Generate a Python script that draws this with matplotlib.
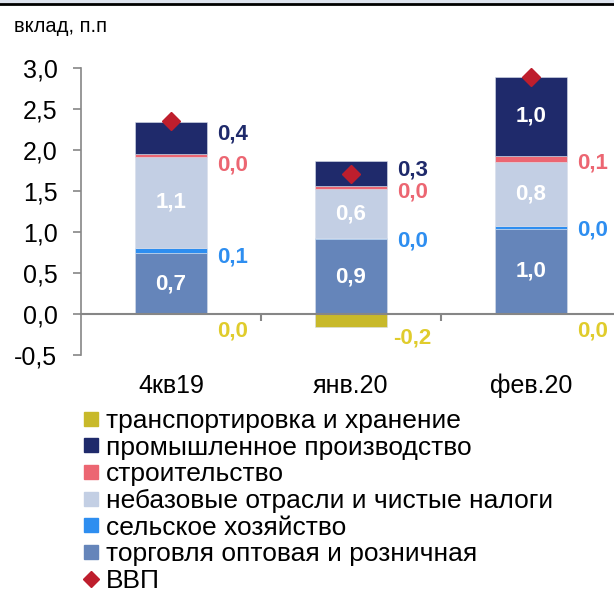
import matplotlib
matplotlib.use("Agg")
import matplotlib.pyplot as plt
from matplotlib.lines import Line2D
from matplotlib.patches import Rectangle

plt.rcParams["font.family"] = ["Liberation Sans", "DejaVu Sans"]

categories = ["4кв19", "янв.20", "фев.20"]

# positive stack, bottom to top
trade = [0.74, 0.91, 1.04]
agri = [0.07, 0.02, 0.03]
nonbase = [1.10, 0.59, 0.78]
constr = [0.04, 0.04, 0.075]
industry = [0.39, 0.30, 0.97]
# negative
transport = [0.0, -0.16, 0.0]
gdp = [2.35, 1.71, 2.89]

names = ["торговля оптовая и розничная", "сельское хозяйство",
         "небазовые отрасли и чистые налоги", "строительство",
         "промышленное производство"]
colors = ["#6585BA", "#2E8EF0", "#C3CFE4", "#EC6672", "#1F2A6B"]
label_colors = ["white", "#2E8EF0", "white", "#EC6672", "#1F2A6B"]
transport_name = "транспортировка и хранение"
transport_color = "#C8B92A"
transport_label_color = "#E0CC2C"
gdp_color = "#BE1E2D"

# vertical nudges (points, positive = down) for outside labels, per series and bar
nudges = {1: [5, 2, 2], 3: [7, 3, 3], 4: [-3, -3, 0]}

fig = plt.figure(figsize=(6.14, 5.89), dpi=100)
ax = fig.add_axes([81 / 614, 234 / 589, 540 / 614, 287 / 589])

x = list(range(len(categories)))
w = 0.4
bottom = [0.0] * 3
series = [trade, agri, nonbase, constr, industry]
for k, vals in enumerate(series):
    ax.bar(x, vals, w, bottom=bottom, color=colors[k], edgecolor="#D8DEEA",
           linewidth=0.4, zorder=2)
    for i, v in enumerate(vals):
        mid = bottom[i] + v / 2
        txt = f"{v:.1f}".replace(".", ",")
        if v >= 0.5:
            ax.text(i, mid, txt, ha="center", va="center", color="white",
                    fontsize=16, fontweight="bold", zorder=4)
        else:
            ax.annotate(txt, (i + w / 2 + 0.14, mid), xytext=(0, -nudges[k][i]),
                        textcoords="offset points", ha="center", va="center",
                        color=label_colors[k], fontsize=16, fontweight="bold")
        bottom[i] += v

ax.bar(x, transport, w, color=transport_color, edgecolor="#D8DEEA",
       linewidth=0.4, zorder=2)
for i, v in enumerate(transport):
    txt = f"{v:.1f}".replace(".", ",")
    ax.annotate(txt, (i + w / 2 + 0.14, v / 2), xytext=(0, -12.5),
                textcoords="offset points", ha="center", va="center",
                color=transport_label_color, fontsize=16, fontweight="bold")

ax.plot(x, gdp, linestyle="none", marker="D", markersize=9.5,
        color=gdp_color, zorder=5)

ax.set_xlim(-0.5, 2.5)
ax.set_ylim(-0.5, 3.0)
ax.set_yticks([-0.5, 0, 0.5, 1.0, 1.5, 2.0, 2.5, 3.0])
ax.set_yticklabels([f"{t:.1f}".replace(".", ",") for t in ax.get_yticks()])
ax.set_xticks(x)
ax.set_xticklabels(categories)
ax.set_xticks([0.5, 1.5, 2.5], minor=True)

for s in ["top", "right"]:
    ax.spines[s].set_visible(False)
ax.spines["bottom"].set_position(("data", 0))
ax.spines["left"].set_color("#868686")
ax.spines["bottom"].set_color("#868686")
ax.spines["left"].set_linewidth(1.2)
ax.spines["bottom"].set_linewidth(1.5)
ax.tick_params(axis="y", length=6, width=1.2, color="#868686", labelsize=18,
               pad=11)
ax.tick_params(axis="x", which="major", length=0, labelsize=18, pad=43)
ax.tick_params(axis="x", which="minor", length=5, width=1.5, color="#868686")

fig.text(14 / 614, 1 - 27 / 589, "вклад, п.п", fontsize=14.5, va="center",
         ha="left")

# top frame
fig.patches.append(Rectangle((0, 1 - 3 / 589), 1, 3 / 589,
                             transform=fig.transFigure, color="#DDE3EE"))
fig.lines.append(Line2D([0, 1], [1 - 4 / 589, 1 - 4 / 589],
                        transform=fig.transFigure, color="black", lw=2))

handles = [Line2D([], [], linestyle="none", marker="s", markersize=9.5,
                  color=transport_color)]
labels = [transport_name]
for k in [4, 3, 2, 1, 0]:
    handles.append(Line2D([], [], linestyle="none", marker="s",
                          markersize=9.5, color=colors[k]))
    labels.append(names[k])
handles.append(Line2D([], [], linestyle="none", marker="D", markersize=8,
                      color=gdp_color))
labels.append("ВВП")
fig.legend(handles, labels, loc="upper left",
           bbox_to_anchor=(82 / 614, 1 - 409 / 589), frameon=False,
           fontsize=19, handlelength=0.7, handletextpad=0.22,
           labelspacing=0.1, borderaxespad=0, borderpad=0)

fig.savefig("out.png", dpi=100)
